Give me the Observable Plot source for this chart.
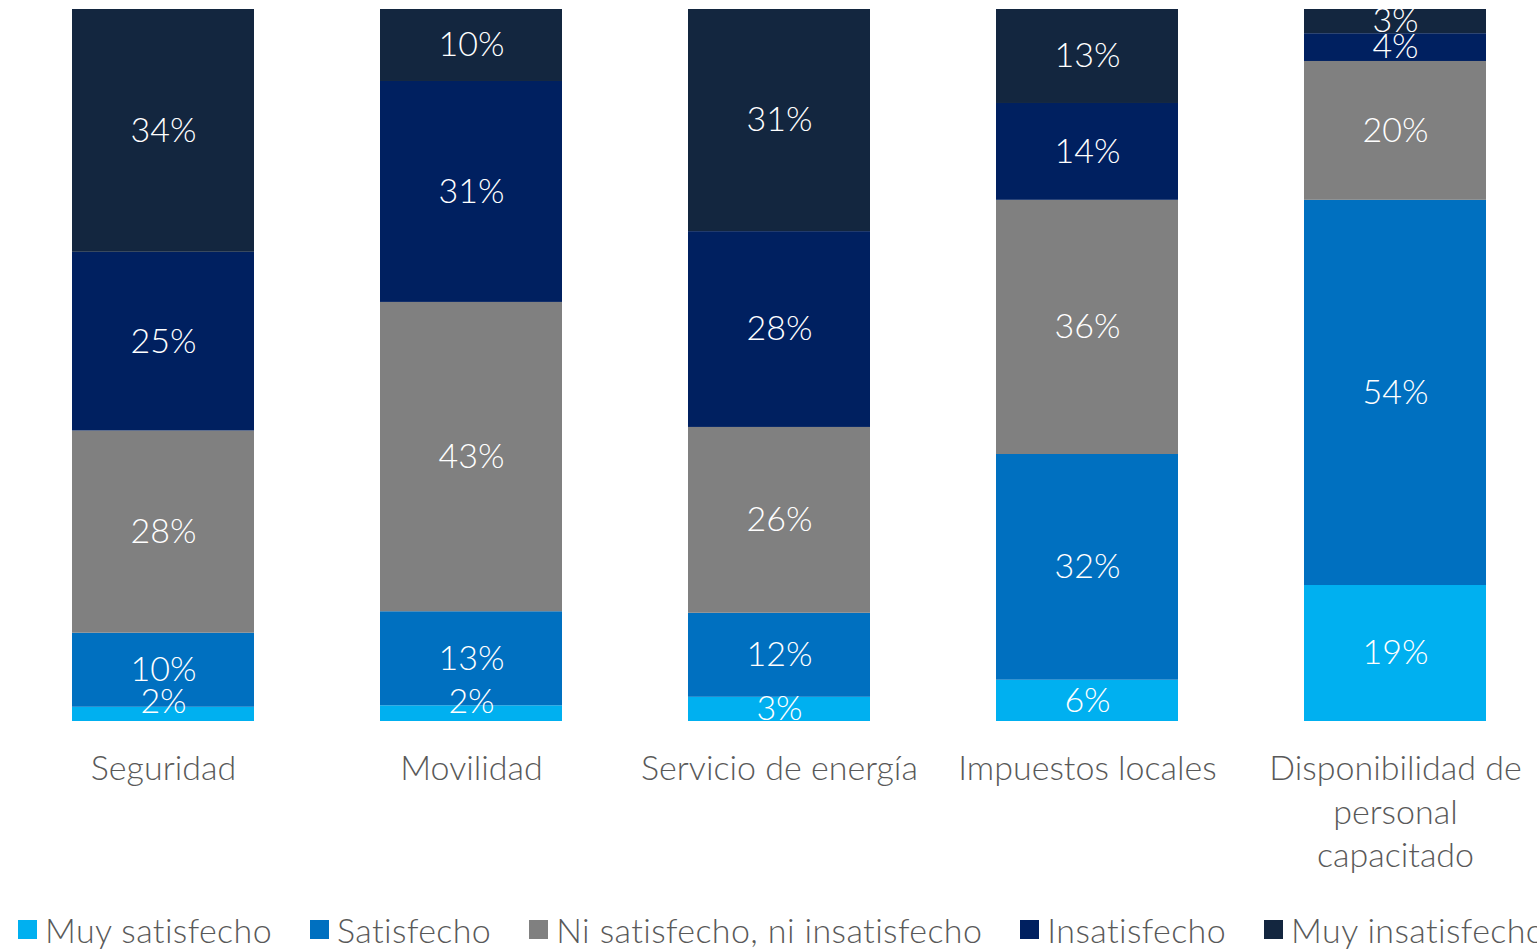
<!DOCTYPE html>
<html>
<head>
<meta charset="utf-8">
<script src="https://cdn.jsdelivr.net/npm/d3@7"></script>
<script src="https://cdn.jsdelivr.net/npm/@observablehq/plot@0.6"></script>
<style>
  html, body { margin: 0; padding: 0; background: #fff; overflow: hidden; width: 1537px; height: 950px; }
  #chart { width: 1537px; height: 890px; overflow: hidden; }
  #chart svg { max-width: none !important; display: block; }
  #legend { display: flex; white-space: nowrap; margin-left: 18px; margin-top: 19px; font-family: Lato, "Open Sans", sans-serif; font-weight: 300; font-size: 34px; letter-spacing: 0.4px; color: #595959; }
  .item { display: flex; align-items: center; margin-right: 38px; }
  .sw { width: 19px; height: 19px; margin-right: 8px; flex: none; }
</style>
</head>
<body>
<div id="chart"></div>
<div id="legend"></div>
<script>
const categories = ["Seguridad", "Movilidad", "Servicio de energía", "Impuestos locales", "Disponibilidad de personal capacitado"];
const tickLabels = ["Seguridad", "Movilidad", "Servicio de energía", "Impuestos locales", "Disponibilidad de\npersonal\ncapacitado"];
const series = ["Muy satisfecho", "Satisfecho", "Ni satisfecho, ni insatisfecho", "Insatisfecho", "Muy insatisfecho"];
const colors = ["#00B0F0", "#0070C0", "#808080", "#002060", "#13263F"];
// percent values per series, in category order
const muySatisfecho   = [2.0, 2.2, 3.4, 5.8, 19.1];
const satisfecho      = [10.4, 13.2, 11.8, 31.7, 54.1];
const niNi            = [28.4, 43.4, 26.1, 35.7, 19.5];
const insatisfecho    = [25.1, 31.0, 27.5, 13.6, 3.9];
const muyInsatisfecho = [34.1, 10.1, 31.2, 13.2, 3.4];

const valuesBySeries = [muySatisfecho, satisfecho, niNi, insatisfecho, muyInsatisfecho];
const data = [];
series.forEach((s, si) => categories.forEach((c, ci) => data.push({cat: c, series: s, value: valuesBySeries[si][ci]})));

const font = 'Lato, "Open Sans", sans-serif';
const stackOpts = {offset: "normalize", x: "cat", y: "value", z: "series", order: series};
const label = d => Math.round(d.value) + "%";
const textStyle = {fill: "white", fontSize: 34, fontWeight: 300};
const plot = Plot.plot({
  width: 1550,
  height: 890,
  marginTop: 9,
  marginBottom: 169,
  marginLeft: 7,
  marginRight: 0,
  style: {fontFamily: font, fontWeight: 300, background: "#fff", overflow: "hidden", maxWidth: "none"},
  x: {domain: categories, paddingInner: 0.41, paddingOuter: 0.205, label: null},
  y: {axis: null, domain: [0, 1]},
  color: {domain: series, range: colors},
  marks: [
    Plot.barY(data, Plot.stackY({...stackOpts, fill: "series"})),
    Plot.ruleY([0], {stroke: "#D9D9D9", strokeWidth: 2, x1: () => categories[0], insetLeft: -61}),
    Plot.text(data, Plot.stackY({...stackOpts, ...textStyle, text: d => d.value >= 3 ? label(d) : null})),
    // labels of segments too thin for the text are lifted a little so they stay readable
    Plot.text(data, Plot.stackY({...stackOpts, ...textStyle, text: d => d.value < 3 ? label(d) : null, dy: -12})),
    Plot.axisX({tickSize: 0, tickPadding: 27, fontSize: 34, fill: "#595959", fontWeight: 300, lineHeight: 1.29,
      tickFormat: (d) => tickLabels[categories.indexOf(d)], label: null})
  ]
});
document.getElementById("chart").append(plot);

const legend = document.getElementById("legend");
series.forEach((s, i) => {
  const it = document.createElement("div");
  it.className = "item";
  const sw = document.createElement("span");
  sw.className = "sw";
  sw.style.background = colors[i];
  const t = document.createElement("span");
  t.textContent = s;
  it.append(sw, t);
  legend.append(it);
});
</script>
</body>
</html>
